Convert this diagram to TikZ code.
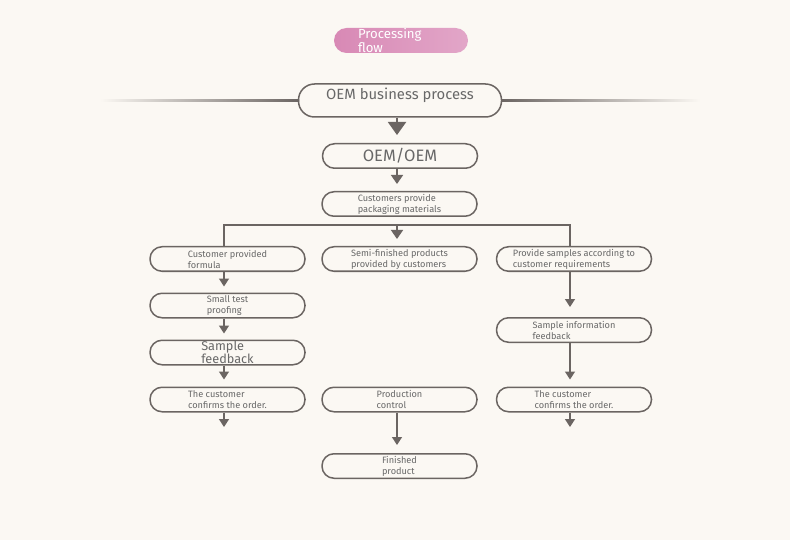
\documentclass[tikz,border=0pt]{standalone}
\usepackage{fontspec}
\setmainfont{Fira Sans}
\usetikzlibrary{arrows.meta}
\definecolor{bg}{HTML}{FBF8F3}
\definecolor{linec}{HTML}{6B6562}
\definecolor{textc}{HTML}{686868}
\definecolor{pinkL}{HTML}{D889B5}
\definecolor{pinkM}{HTML}{DE9CC1}
\definecolor{pinkR}{HTML}{E2A6C8}

\begin{document}
\begin{tikzpicture}[x=1pt, y=-1pt,
  stepbox/.style={draw=linec, line width=1.5pt, rounded corners=12pt, minimum width=155pt, minimum height=24.5pt, inner sep=0pt, align=left, text=textc, font=\fontsize{9.2}{11}\selectfont},
  bigbox/.style={stepbox, minimum width=203pt, minimum height=33pt, rounded corners=16pt, font=\fontsize{14.8}{17}\selectfont, text height=9.5pt, text depth=11.5pt},
  titlebox/.style={rounded corners=12.5pt, left color=pinkL, middle color=pinkM, right color=pinkR, minimum width=134pt, minimum height=25pt, inner sep=0pt, text width=86pt, align=left, text=white, font=\fontsize{13.2}{14.5}\selectfont},
  flow/.style={draw=linec, line width=1.5pt, -{Triangle[width=10pt,length=8pt]}, shorten >=7pt},
  link/.style={draw=linec, line width=1.5pt}]
\fill[bg] (0,0) rectangle (790,540);

\node[titlebox] (title) at (401,40.5) {Processing\\flow};
\node[bigbox] (biz) at (400,100.5) {OEM business process};
\node[stepbox, font=\fontsize{16.5}{18}\selectfont] (oem) at (400,156) {OEM/OEM};
\node[stepbox] (pack) at (399.5,204) {Customers provide\\packaging materials};
\node[stepbox] (formula) at (227.5,259) {Customer provided\\formula};
\node[stepbox] (semi) at (399.5,259) {Semi-finished products\\provided by customers};
\node[stepbox] (req) at (574,259) {Provide samples according to\\customer requirements};
\node[stepbox] (small) at (227.5,305.5) {Small test\\proofing};
\node[stepbox, font=\fontsize{12.7}{13}\selectfont] (sfb) at (227.5,352.5) {Sample\\feedback};
\node[stepbox] (conf1) at (227.5,399.5) {The customer\\confirms the order.};
\node[stepbox] (info) at (574,330) {Sample information\\feedback};
\node[stepbox] (conf2) at (574,399.5) {The customer\\confirms the order.};
\node[stepbox] (prod) at (399.5,399.5) {Production\\control};
\node[stepbox] (fin) at (399.5,466) {Finished\\product};

\coordinate (colL) at (224,0);
\coordinate (colM) at (397,0);
\coordinate (colR) at (570,0);
\coordinate (split) at (397,225);
\coordinate (endL) at (224,427);
\coordinate (endR) at (570,427);

\shade[left color=bg, right color=linec] (100,99.8) rectangle (299,101.6);
\shade[left color=linec, right color=bg] (501,99.8) rectangle (700,101.6);

\draw[flow, line width=2pt, -{Triangle[width=18pt,length=13pt]}, shorten >=8pt] (biz.south -| colM) -- (oem.north -| colM);
\draw[flow, -{Triangle[width=12pt,length=9pt]}] (oem.south -| colM) -- (pack.north -| colM);
\draw[link] (formula.north -| colL) |- (split) -| (req.north -| colR);
\draw[flow, -{Triangle[width=12pt,length=9pt]}] (split) -- (semi.north -| colM);

\draw[flow, shorten >=6pt] (formula.south -| colL) -- (small.north -| colL);
\draw[flow, shorten >=6pt] (small.south -| colL) -- (sfb.north -| colL);
\draw[flow] (sfb.south -| colL) -- (conf1.north -| colL);
\draw[flow, shorten >=0pt] (conf1.south -| colL) -- (endL);

\draw[flow, shorten >=10pt] (req.south -| colR) -- (info.north -| colR);
\draw[flow] (info.south -| colR) -- (conf2.north -| colR);
\draw[flow, shorten >=0pt] (conf2.south -| colR) -- (endR);

\draw[flow, shorten >=8pt] (prod.south -| colM) -- (fin.north -| colM);
\end{tikzpicture}
\end{document}
